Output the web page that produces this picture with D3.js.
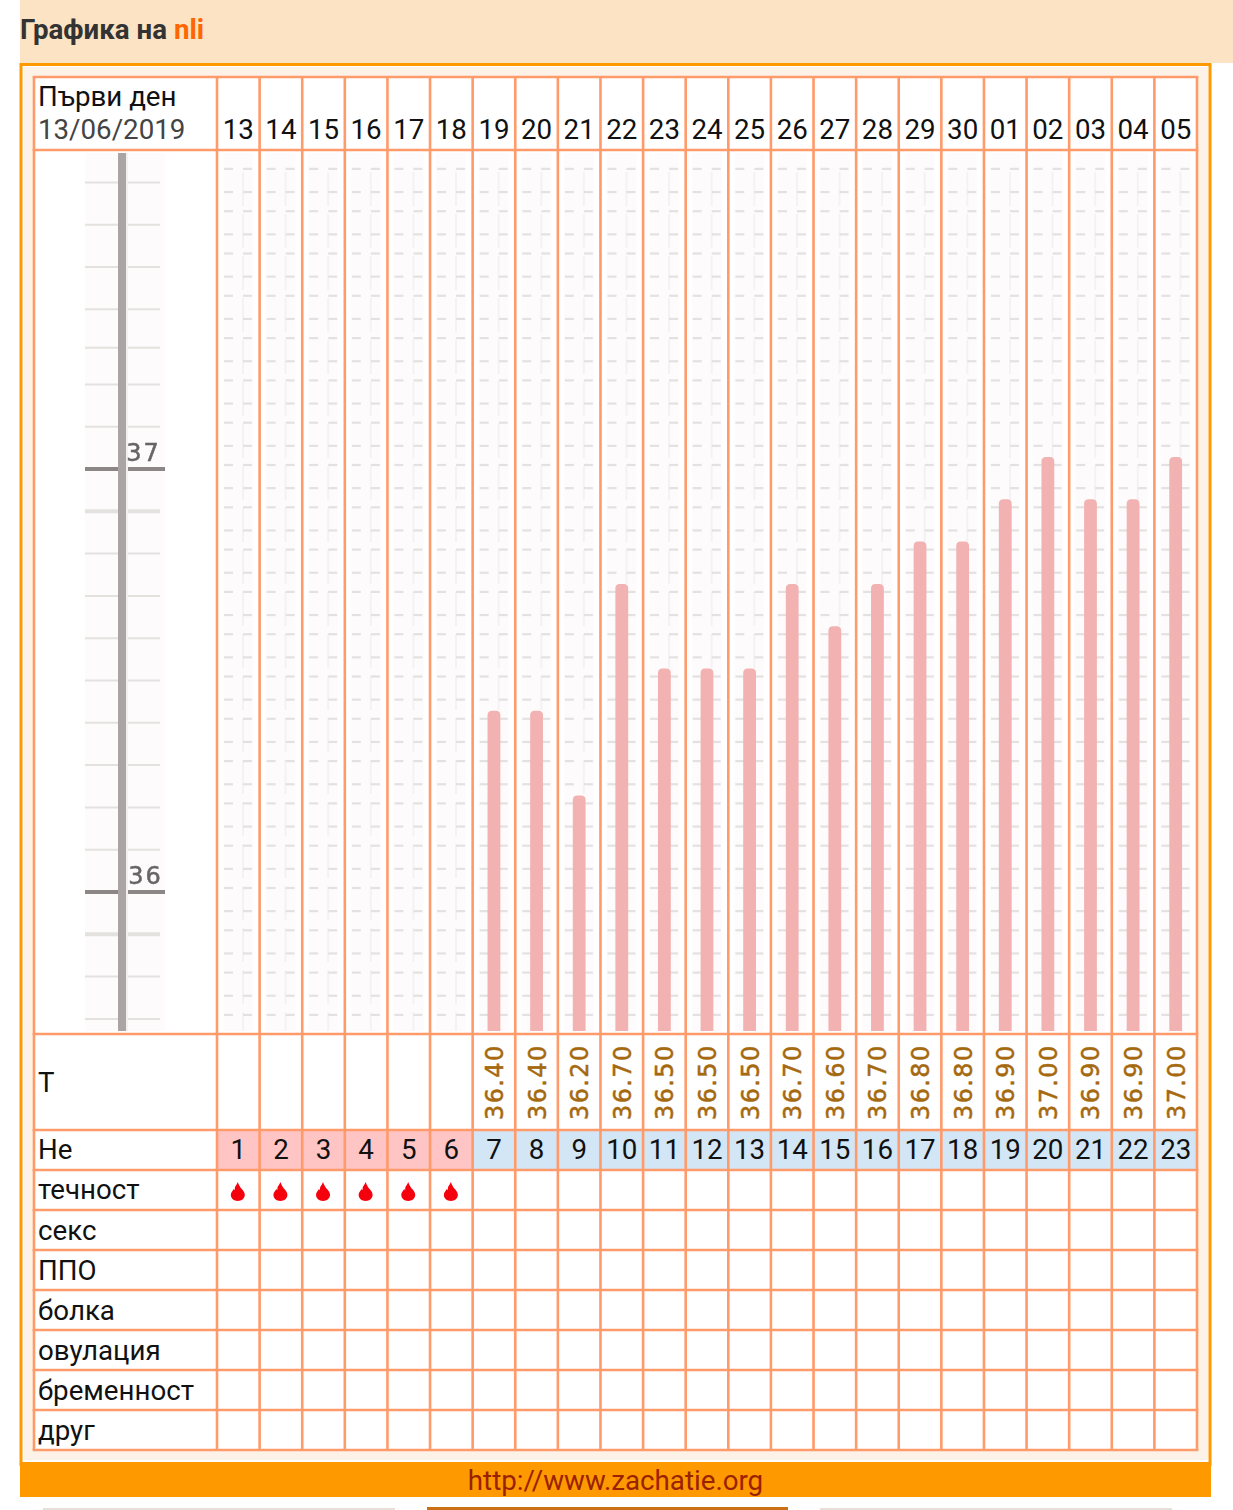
<!DOCTYPE html>
<html lang="en">
<head>
<meta charset="UTF-8">
<title>Графика на nli</title>
<script src="https://d3js.org/d3.v7.min.js"></script>
<style>
    html, body { margin: 0; padding: 0; background: #fff; }
    svg { display: block; }
    text { font-family: Roboto, sans-serif; font-size: 27.7px; }
    .pix { font-family: "DejaVu Sans", sans-serif; font-size: 24px; stroke-width: 0.5px; }
</style>
</head>
<body>
<div id="chart"></div>
<script>
// values
const dates = ["13","14","15","16","17","18","19","20","21","22","23","24","25","26","27","28","29","30","01","02","03","04","05"];
const cycleDays = d3.range(1, 24);
const temps = [null,null,null,null,null,null,36.4,36.4,36.2,36.7,36.5,36.5,36.5,36.7,36.6,36.7,36.8,36.8,36.9,37.0,36.9,36.9,37.0];
const flow = [1,1,1,1,1,1,0,0,0,0,0,0,0,0,0,0,0,0,0,0,0,0,0];
const periodDays = 6;
const rowLabels = ["течност","секс","ППО","болка","овулация","бременност","друг"];
const scaleLabels = [37, 36];

const W = 1233, H = 1510;
const border = "#ff9a6a", orange = "#ff9900";

const svg = d3.select("#chart").append("svg").attr("width", W).attr("height", H);

// the original marks are a scaled up image, so they get a slight blur
svg.append("defs").append("filter").attr("id", "soft")
    .attr("filterUnits", "userSpaceOnUse").attr("x", 0).attr("y", 0).attr("width", W).attr("height", H)
    .append("feGaussianBlur").attr("stdDeviation", 0.7);

// page frame
svg.append("rect").attr("x", 20).attr("y", 0).attr("width", W - 20).attr("height", 63).attr("fill", "#fce3c3");
svg.append("rect").attr("x", 21).attr("y", 64.5).attr("width", 1189).attr("height", 1400)
    .attr("fill", "#fff").attr("stroke", orange).attr("stroke-width", 3);
svg.append("rect").attr("x", 24).attr("y", 67).attr("width", 1184).attr("height", 1393).attr("fill", "#fdf2e8");
svg.append("rect").attr("x", 20).attr("y", 1462).attr("width", 1191).attr("height", 35).attr("fill", orange);

const title = svg.append("text").attr("x", 20).attr("y", 39).attr("font-weight", 700).attr("fill", "#333");
title.append("tspan").text("Графика на ");
title.append("tspan").attr("fill", "#ff6600").text("nli");

svg.append("text").attr("x", 615.5).attr("y", 1490).attr("text-anchor", "middle").attr("fill", "#992200")
    .text("http://www.zachatie.org");

// bits of the next page block, cut by the bottom edge
svg.append("rect").attr("x", 43).attr("y", 1508).attr("width", 352).attr("height", 2).attr("fill", "#e6e0d8");
svg.append("rect").attr("x", 427).attr("y", 1507).attr("width", 361).attr("height", 3).attr("fill", "#c96f14");
svg.append("rect").attr("x", 820).attr("y", 1508).attr("width", 352).attr("height", 2).attr("fill", "#e6e0d8");

// table geometry
const x = d3.scaleBand().domain(dates).range([217, 1197]);
const tableLeft = 34;
const rowLines = [77, 150, 1034, 1130, 1170, 1210, 1250, 1290, 1330, 1370, 1410, 1450];
const plotTop = 153, plotBottom = 1031;

svg.append("rect").attr("x", tableLeft).attr("y", 77).attr("width", 1197 - tableLeft).attr("height", 1450 - 77).attr("fill", "#fff");

// temperature scale: 37 and 36 read from the ruler
const y = d3.scaleLinear().domain([36, 37]).range([892, 469]);
const yTop = y.invert(plotTop), yBottom = y.invert(plotBottom);

// the ruler image is not even above 37.2, its ticks sit a bit lower there
const rulerY = d => y(d) + (d > 37.35 ? 9.5 : d > 37.25 ? 5.7 : 0);

// ruler in the first column
const ruler = svg.append("g").attr("filter", "url(#soft)");
ruler.append("rect").attr("x", 85).attr("y", plotTop).attr("width", 80).attr("height", plotBottom - plotTop).attr("fill", "#fdfbfc");
const rulerTicks = d3.range(Math.ceil(yBottom * 10), Math.floor(yTop * 10) + 1).map(d => d / 10);
ruler.selectAll("line.minor").data(rulerTicks).join("line")
    .attr("x1", 85).attr("x2", d => Number.isInteger(d) ? 165 : 160)
    .attr("y1", d => rulerY(d)).attr("y2", d => rulerY(d))
    .attr("stroke", d => Number.isInteger(d) ? "#8c8686" : "#e4e2df")
    .attr("stroke-width", d => Number.isInteger(d) ? 4 : (Math.round(d * 10) % 10 === 9 ? 4 : 2));
ruler.append("rect").attr("x", 126).attr("y", plotTop).attr("width", 2).attr("height", plotBottom - plotTop).attr("fill", "#f2f0f0");
ruler.append("rect").attr("x", 118).attr("y", plotTop).attr("width", 8).attr("height", plotBottom - plotTop).attr("fill", "#aaa4a4");
ruler.selectAll("text").data(scaleLabels).join("text")
    .attr("class", "pix").attr("x", d => d === 37 ? 143.5 : 145.5).attr("y", d => y(d) - 8)
    .attr("text-anchor", "middle").attr("letter-spacing", 2)
    .attr("fill", "#666").attr("stroke", "#666").text(d => d);

// day columns: tiled background with dashes
const tile = d3.range(Math.ceil(y.invert(plotBottom - 12) * 20), Math.floor(y.invert(plotTop + 14) * 20) + 1).map(d => d / 20);
const tileY = d => y(d) - (Math.round(d * 20) % 2 === 0 ? 4 : 2);
const cols = svg.append("g").attr("filter", "url(#soft)").selectAll("g").data(dates).join("g")
    .attr("transform", d => `translate(${x(d)},0)`);
cols.append("rect").attr("x", 6).attr("y", plotTop).attr("width", 30).attr("height", plotBottom - plotTop).attr("fill", "#fdfbfc");
cols.append("line").attr("x1", 26).attr("x2", 26).attr("y1", 172).attr("y2", plotBottom)
    .attr("stroke", "#f4f2f2").attr("stroke-width", 2).attr("stroke-dasharray", "34 8");
[[7, 16], [26, 35]].forEach(([a, b]) => {
    cols.selectAll(null).data(tile).join("line")
        .attr("x1", a).attr("x2", b)
        .attr("y1", tileY).attr("y2", tileY)
        .attr("stroke", "#e4e2e0").attr("stroke-width", 2.2);
});

// temperature bars, the cap sits a little above the value
const capOffset = 12, barW = 12.8;
svg.append("g").attr("filter", "url(#soft)").selectAll("path").data(dates.map((d, i) => ({ d, t: temps[i] })).filter(d => d.t !== null)).join("path")
    .attr("fill", "#f2b2b2")
    .attr("d", d => {
        const cx = x(d.d) + x.bandwidth() / 2;
        const top = y(d.t) - capOffset, r = 4.5;
        const l = cx - barW / 2, rr = cx + barW / 2;
        return `M${l},${plotBottom}V${top + r}Q${l},${top} ${l + r},${top}H${rr - r}Q${rr},${top} ${rr},${top + r}V${plotBottom}Z`;
    });

// cycle day fills
svg.append("g").selectAll("rect").data(dates).join("rect")
    .attr("x", d => x(d)).attr("y", 1130).attr("width", x.bandwidth()).attr("height", 40)
    .attr("fill", (d, i) => i < periodDays ? "#ffc4c4" : "#d3e6f6");

// grid
const grid = svg.append("g").attr("stroke", border).attr("stroke-width", 2.6);
grid.selectAll("line.h").data(rowLines).join("line")
    .attr("x1", tableLeft - 1.3).attr("x2", 1198.3).attr("y1", d => d).attr("y2", d => d);
grid.selectAll("line.v").data([tableLeft, ...dates.map(d => x(d)), 1197]).enter().append("line")
    .attr("x1", d => d).attr("x2", d => d).attr("y1", 77).attr("y2", 1450);

// header and row labels
svg.append("text").attr("x", 38).attr("y", 106).attr("fill", "#111").text("Първи ден");
svg.append("text").attr("x", 38).attr("y", 139).attr("fill", "#444").text("13/06/2019");
svg.append("text").attr("x", 38).attr("y", 1092).attr("fill", "#111").text("Т");
svg.append("text").attr("x", 38).attr("y", 1159).attr("fill", "#111").text("Не");
svg.append("g").selectAll("text").data(rowLabels).join("text")
    .attr("x", 38).attr("y", (d, i) => rowLines[4] + 30 + i * 40 - (i === 0 ? 1 : 0)).attr("fill", "#111").text(d => d);

svg.append("g").selectAll("text").data(dates).join("text")
    .attr("x", d => x(d) + x.bandwidth() / 2).attr("y", 139).attr("text-anchor", "middle").attr("fill", "#111").text(d => d);
svg.append("g").selectAll("text").data(cycleDays).join("text")
    .attr("x", (d, i) => x(dates[i]) + x.bandwidth() / 2).attr("y", 1159).attr("text-anchor", "middle").attr("fill", "#111").text(d => d);

// rotated temperature readings
svg.append("g").selectAll("text").data(dates.map((d, i) => ({ d, t: temps[i] })).filter(d => d.t !== null)).join("text")
    .attr("class", "pix")
    .attr("transform", d => `translate(${x(d.d) + x.bandwidth() / 2 + 9},1120) rotate(-90)`)
    .attr("fill", "#a5690f").attr("stroke", "#a5690f").attr("letter-spacing", 1.4)
    .text(d => d.t.toFixed(2));

// flow drops
svg.append("g").attr("filter", "url(#soft)").selectAll("path").data(dates.filter((d, i) => flow[i])).join("path")
    .attr("fill", "#f5000f")
    .attr("transform", d => `translate(${x(d) + x.bandwidth() / 2 - 0.5},1192)`)
    .attr("d", "M0,-10C1,-7 2,-6 3,-4C5,-2 7,0 7,3C7,6 4,9 0,9C-4,9 -7,6 -7,3C-7,0 -5,-1 -4,-3C-3,-1 -3,-2 -3,-4C-3,-6 -1,-7 0,-10Z");
</script>
</body>
</html>
